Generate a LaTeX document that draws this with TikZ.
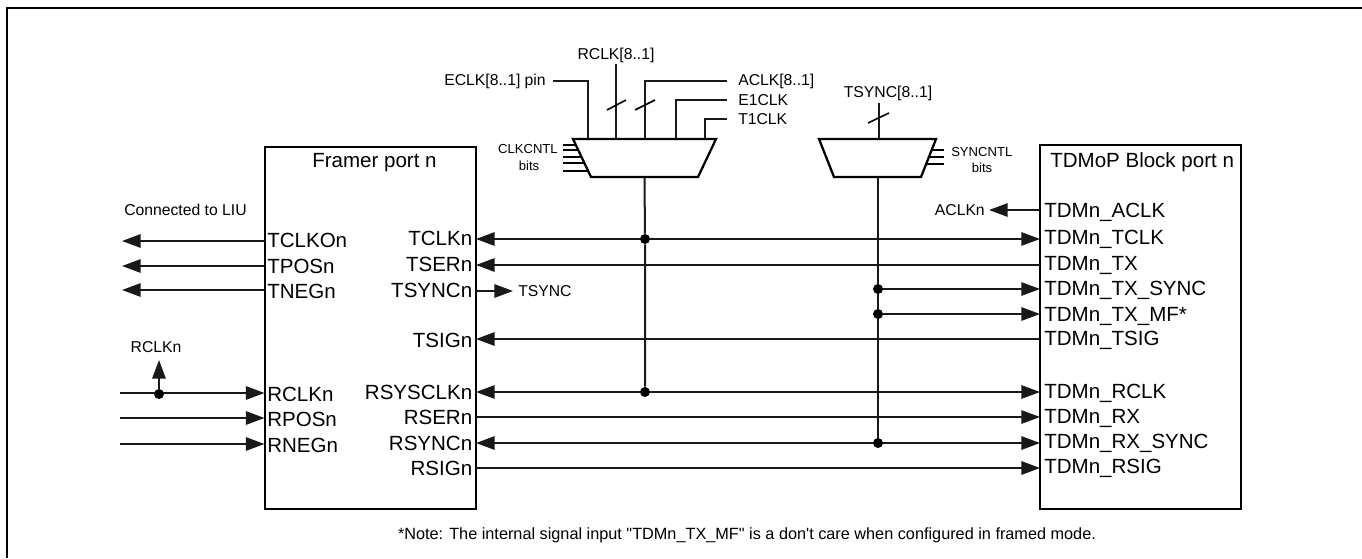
\documentclass[tikz,border=0pt]{standalone}
\usepackage{fontspec}
\setmainfont{Liberation Sans}
\newfontfamily\plainsans{Liberation Sans}
\usetikzlibrary{arrows.meta}
\tikzset{
  wire/.style={line width=1.5pt,black!90},
  tip/.style={-{Triangle[length=14pt,width=10pt]}},
  tipL/.style={{Triangle[length=14pt,width=10pt]}-},
  tipB/.style={{Triangle[length=14pt,width=10pt]}-{Triangle[length=14pt,width=10pt]}},
  thin wire/.style={line width=1.2pt},
  box/.style={draw,line width=1.5pt,inner sep=0pt,outer sep=0pt,anchor=north west},
  pinW/.style={anchor=base west,inner sep=0pt,font=\fontsize{15.4pt}{17pt}\selectfont},
  pinE/.style={anchor=base east,inner sep=0pt,font=\fontsize{15.4pt}{17pt}\selectfont},
  small/.style={anchor=base west,inner sep=0pt,font=\fontsize{11.8pt}{14pt}\selectfont},
  tiny/.style={anchor=base,inner sep=0pt,font=\fontsize{9.8pt}{12pt}\selectfont},
  jdot/.style={circle,fill=black,inner sep=0pt,minimum size=7.5pt},
  mux/.style={line width=1.7pt,line join=miter}
}
\begin{document}
\begin{tikzpicture}[x=0.75pt,y=-0.75pt]
\useasboundingbox (0,0) rectangle (1362,558);
% page frame: top and left only
\draw[line width=2pt] (7,558) -- (7,8) -- (1362,8);

% blocks
\node[box,minimum width=158.6pt,minimum height=271.5pt] (framer) at (264.5,147) {};
\node[box,minimum width=150.75pt,minimum height=273pt] (tdm) at (1040,145) {};
\node[pinW] (framertitle) at (312,167) {Framer port n};
\node[pinW] (tdmtitle) at (1050,167) {TDMoP Block port n};

% mux corners
\coordinate (m1tl) at (573,139); \coordinate (m1tr) at (716,139);
\coordinate (m1br) at (698,177); \coordinate (m1bl) at (591,177);
\draw[mux] (m1tl) -- (m1tr) -- (m1br) -- (m1bl) -- cycle;
\coordinate (m2tl) at (819,139); \coordinate (m2tr) at (936,139);
\coordinate (m2br) at (921,177); \coordinate (m2bl) at (834,177);
\draw[mux] (m2tl) -- (m2tr) -- (m2br) -- (m2bl) -- cycle;

% mux inputs
\node[small,anchor=base east] (eclk) at (546,85) {ECLK[8..1] pin};
\node[small,anchor=base] (rclk) at (616,59) {RCLK[8..1]};
\node[small] (aclk) at (738,85) {ACLK[8..1]};
\node[small] (e1clk) at (738,105) {E1CLK};
\node[small] (t1clk) at (738,124) {T1CLK};
\node[small,anchor=base] (tsyncin) at (888,97) {TSYNC[8..1]};
\draw[wire] (553,81) -- (588,81) -- (588,139);
\draw[wire] (616,64) -- (616,139);
\draw[wire] (727,81) -- (645,81) -- (645,139);
\draw[wire] (727,100) -- (676,100) -- (676,139);
\draw[wire] (727,119) -- (705,119) -- (705,139);
\draw[wire] (879,103) -- (879,139);
\draw[thin wire] (607,110) -- (626,100);
\draw[thin wire] (635,110) -- (655,100);
\draw[thin wire] (868,123) -- (889,113);

% control bits
\node[tiny,anchor=base east] (clkcntl) at (558,153) {CLKCNTL};
\node[tiny] (clkbits) at (529,170) {bits};
\foreach \y/\x in {145/576,150/578,157/581.5,163/584,171/588}
  \draw[thin wire] (563,\y) -- (\x,\y);
\node[tiny,anchor=base west] (syncntl) at (951,156) {SYNCNTL};
\node[tiny] (syncbits) at (982,172) {bits};
\foreach \y/\x in {150/932,157/929,164/926}
  \draw[thin wire] (944,\y) -- (\x,\y);

% framer left pins
\node[pinW] (tclko) at (267,247) {TCLKOn};
\node[pinW] (tpos) at (267,273) {TPOSn};
\node[pinW] (tneg) at (267,298) {TNEGn};
\node[pinW] (rclkn) at (267,401) {RCLKn};
\node[pinW] (rpos) at (267,426.5) {RPOSn};
\node[pinW] (rneg) at (267,452) {RNEGn};
\node[small] (liu) at (124,215) {Connected to LIU};
\coordinate (ltclko) at (122,241); \coordinate (ltpos) at (122,266); \coordinate (ltneg) at (122,290);
\coordinate (lrclk) at (120,393); \coordinate (lrpos) at (120,418); \coordinate (lrneg) at (120,444);
\draw[wire,tip] (264.5,241) -- (ltclko);
\draw[wire,tip] (264.5,266) -- (ltpos);
\draw[wire,tip] (264.5,290) -- (ltneg);
\draw[wire,tip] (lrclk) -- (264.5,393);
\draw[wire,tip] (lrpos) -- (264.5,418);
\draw[wire,tip] (lrneg) -- (264.5,444);
\node[jdot] (jr) at (159,394) {};
\node[small,anchor=base] (rclkup) at (156,352) {RCLKn};
\coordinate (rclkuptip) at (159,360);
\draw[wire,tip] (jr) -- (rclkuptip);

% framer right pins
\node[pinE] (tclkn) at (472.5,245.5) {TCLKn};
\node[pinE] (tsern) at (472.5,271) {TSERn};
\node[pinE] (tsyncn) at (472.5,297) {TSYNCn};
\node[pinE] (tsign) at (472.5,347) {TSIGn};
\node[pinE] (rsysclkn) at (472.5,399) {RSYSCLKn};
\node[pinE] (rsern) at (472.5,424) {RSERn};
\node[pinE] (rsyncn) at (472.5,450) {RSYNCn};
\node[pinE] (rsign) at (472.5,475) {RSIGn};
\node[small] (tsynclab) at (518,296) {TSYNC};
\coordinate (tsynctip) at (513,291);
\draw[wire,tip] (476,291) -- (tsynctip);

% TDM pins
\node[pinW] (tACLK) at (1044,217) {TDMn\_ACLK};
\node[pinW] (tTCLK) at (1044,244) {TDMn\_TCLK};
\node[pinW] (tTX) at (1044,270) {TDMn\_TX};
\node[pinW] (tSYNC) at (1044,295) {TDMn\_TX\_SYNC};
\node[pinW] (tMF) at (1044,321) {TDMn\_TX\_MF*};
\node[pinW] (tTSIG) at (1044,345) {TDMn\_TSIG};
\node[pinW] (tRCLK) at (1044,398) {TDMn\_RCLK};
\node[pinW] (tRX) at (1044,423) {TDMn\_RX};
\node[pinW] (tRXS) at (1044,448) {TDMn\_RX\_SYNC};
\node[pinW] (tRSIG) at (1044,473) {TDMn\_RSIG};
\node[small,anchor=base east] (aclkn) at (985,215) {ACLKn};
\coordinate (aclktip) at (989,210);
\draw[wire,tip] (1040,210) -- (aclktip);

% buses
\draw[wire,tipB] (476,239) -- (1040,239);
\draw[wire,tipL] (476,265) -- (1040,265);
\draw[wire,tipL] (476,339) -- (1040,339);
\draw[wire,tipB] (476,392) -- (1040,392);
\draw[wire,tip] (476,417) -- (1040,417);
\draw[wire,tipB] (476,443) -- (1040,443);
\draw[wire,tip] (476,468) -- (1040,468);

% mux outputs and junctions
\node[jdot] (jc1) at (645,239) {};
\node[jdot] (jc2) at (645,392) {};
\node[jdot] (js1) at (878,289) {};
\node[jdot] (js2) at (878,314) {};
\node[jdot] (js3) at (878,443) {};
\draw[wire] (644.5,177) -- (jc1) -- (jc2);
\draw[wire] (878,177) -- (js1) -- (js2) -- (js3);
\draw[wire,tip] (js1) -- (1040,289);
\draw[wire,tip] (js2) -- (1040,314);

\node[anchor=base,inner sep=0pt,font=\plainsans\fontsize{12.2pt}{14pt}\selectfont] (note) at (747,539)
  {*Note: The internal signal input "TDMn\_TX\_MF" is a don't care when configured in framed mode.};
\end{tikzpicture}
\end{document}
